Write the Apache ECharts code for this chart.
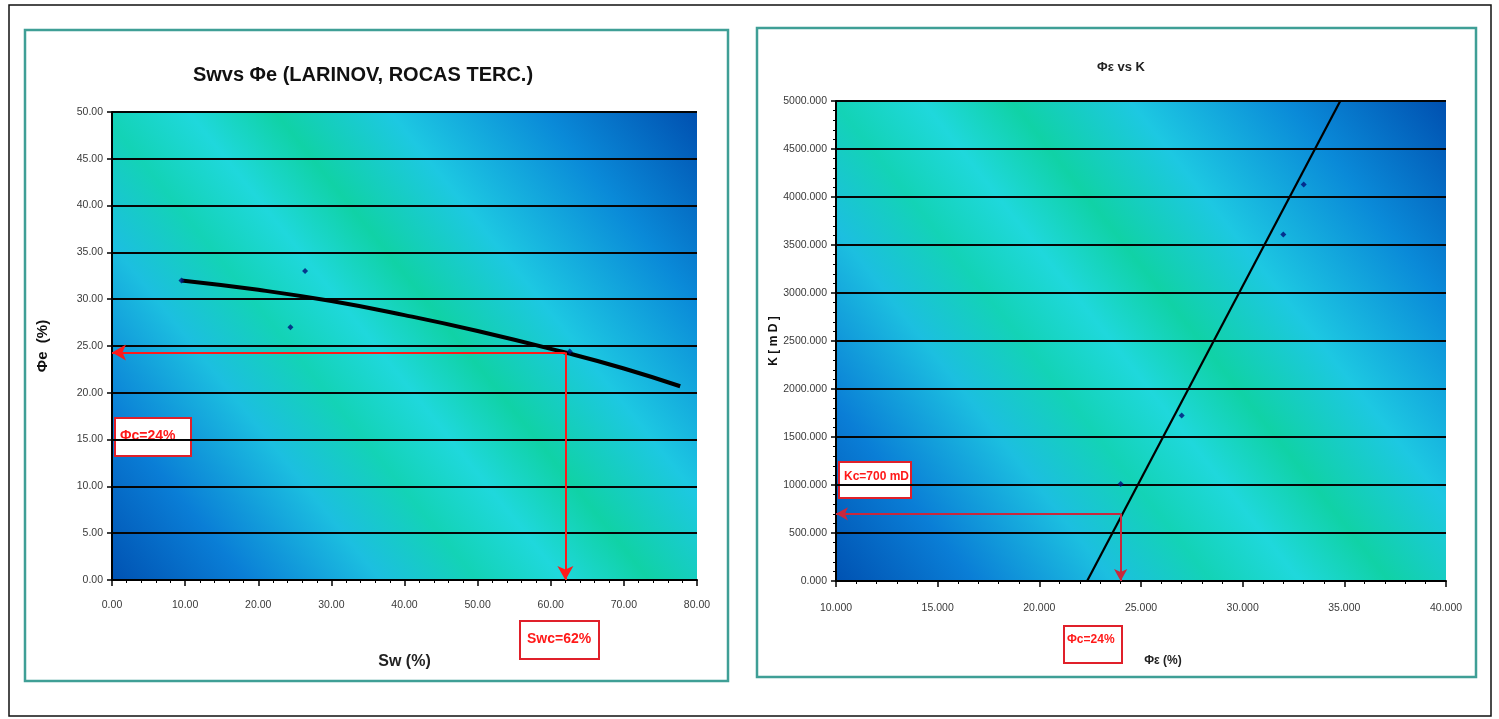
<!DOCTYPE html>
<html><head><meta charset="utf-8">
<script src="https://cdn.jsdelivr.net/npm/echarts@6/dist/echarts.min.js"></script>
<style>html,body{margin:0;padding:0;background:#fff}#c{width:1499px;height:719px}</style>
</head><body><div id="c"></div>
<script>
// ---- Left chart: Sw vs Φe ----
const swPoints = [[9.5, 32.0], [24.4, 27.0], [26.4, 33.0], [62.6, 24.4]];
const swTrend = [[9.5, 32.0], [20, 31.0], [30, 29.8], [40, 28.3], [50, 26.6], [62, 24.3], [70, 22.6], [77.7, 20.7]];
const swCut = { sw: 62, phi: 24.3 };
const leftXTicks = { min: 0, max: 80, interval: 10 };
const leftYTicks = { min: 0, max: 50, interval: 5 };

// ---- Right chart: Φe vs K ----
const kPoints = [[24.0, 1010], [27.0, 1725], [32.0, 3610], [33.0, 4130]];
const kTrend = [[22.35, 0], [34.8, 5000]];
const kCut = { phi: 24.0, k: 700 };
const rightXTicks = { min: 10, max: 40, interval: 5 };
const rightYTicks = { min: 0, max: 5000, interval: 500 };

const FONT = "'Liberation Sans Narrow','Liberation Sans',Arial,sans-serif";
const BOLD = "'Liberation Sans',Arial,sans-serif";

function bg() {
  return new echarts.graphic.LinearGradient(0, 1, 1, 0, [
    { offset: 0, color: '#0052b2' },
    { offset: 0.14, color: '#0a7ed6' },
    { offset: 0.28, color: '#1cbfe0' },
    { offset: 0.38, color: '#13d3b6' },
    { offset: 0.47, color: '#1fd8dc' },
    { offset: 0.56, color: '#10d2a6' },
    { offset: 0.68, color: '#1dc8e2' },
    { offset: 0.84, color: '#0a8ad8' },
    { offset: 1, color: '#0050b0' }
  ]);
}

const axisLabel = (dec) => ({
  color: '#3a3a3a', fontFamily: FONT, fontSize: 10.5,
  formatter: v => v.toFixed(dec)
});

const chart = echarts.init(document.getElementById('c'));
chart.setOption({
  animation: false,
  title: [
    { text: 'Swvs Φe (LARINOV, ROCAS TERC.)', left: 358, top: 60, textAlign: 'center',
      textStyle: { fontFamily: BOLD, fontWeight: 'bold', fontSize: 20, color: '#111' } },
    { text: 'Φε vs K', left: 1116, top: 56, textAlign: 'center',
      textStyle: { fontFamily: BOLD, fontWeight: 'bold', fontSize: 13, color: '#222' } }
  ],
  grid: [
    { left: 112, top: 112, width: 585, height: 468, show: true, backgroundColor: bg(), borderWidth: 0 },
    { left: 836, top: 101, width: 610, height: 480, show: true, backgroundColor: bg(), borderWidth: 0 }
  ],
  xAxis: [
    { gridIndex: 0, type: 'value', ...leftXTicks,
      axisLine: { show: true, lineStyle: { color: '#000', width: 2 } },
      axisTick: { show: true, length: 6, lineStyle: { color: '#000', width: 1.5 } },
      minorTick: { show: true, splitNumber: 5, length: 3, lineStyle: { color: '#000' } },
      splitLine: { show: false },
      axisLabel: { ...axisLabel(2), margin: 20 },
      name: 'Sw (%)', nameLocation: 'middle', nameGap: 74,
      nameTextStyle: { fontFamily: FONT, fontWeight: 'bold', fontSize: 16, color: '#222' } },
    { gridIndex: 1, type: 'value', ...rightXTicks,
      axisLine: { show: true, lineStyle: { color: '#000', width: 2 } },
      axisTick: { show: true, length: 6, lineStyle: { color: '#000', width: 1.5 } },
      minorTick: { show: true, splitNumber: 5, length: 3, lineStyle: { color: '#000' } },
      splitLine: { show: false },
      axisLabel: { ...axisLabel(3), margin: 22 },
      name: 'Φε (%)', nameLocation: 'middle', nameGap: 74,
      nameTextStyle: { fontFamily: FONT, fontWeight: 'bold', fontSize: 12, color: '#222', padding: [0, 0, 0, 44] } }
  ],
  yAxis: [
    { gridIndex: 0, type: 'value', ...leftYTicks,
      axisLine: { show: true, lineStyle: { color: '#000', width: 2 } },
      axisTick: { show: true, length: 5, lineStyle: { color: '#000', width: 1.5 } },
      splitLine: { show: true, lineStyle: { color: '#050505', width: 2 } },
      axisLabel: { ...axisLabel(2), margin: 9 },
      name: 'Φe  (%)', nameLocation: 'middle', nameGap: 62,
      nameTextStyle: { fontFamily: BOLD, fontWeight: 'bold', fontSize: 15, color: '#111' } },
    { gridIndex: 1, type: 'value', ...rightYTicks,
      axisLine: { show: true, lineStyle: { color: '#000', width: 2 } },
      axisTick: { show: true, length: 5, lineStyle: { color: '#000', width: 1.5 } },
      minorTick: { show: true, splitNumber: 5, length: 3, lineStyle: { color: '#000' } },
      splitLine: { show: true, lineStyle: { color: '#050505', width: 2 } },
      axisLabel: { ...axisLabel(3), margin: 9 },
      name: 'K [ m D ]', nameLocation: 'middle', nameGap: 46,
      nameTextStyle: { fontFamily: BOLD, fontWeight: 'bold', fontSize: 12, color: '#111' } }
  ],
  series: [
    { type: 'line', xAxisIndex: 0, yAxisIndex: 0, data: swTrend, smooth: true, showSymbol: false,
      lineStyle: { color: '#000', width: 4 }, z: 3,
      markLine: { silent: true, symbol: ['none', 'arrow'], symbolSize: [12, 14], animation: false,
        label: { show: false }, lineStyle: { color: '#ff1a1a', width: 2, type: 'solid' },
        data: [
          [{ coord: [swCut.sw, swCut.phi] }, { coord: [leftXTicks.min, swCut.phi] }],
          [{ coord: [swCut.sw, swCut.phi] }, { coord: [swCut.sw, leftYTicks.min] }]
        ] } },
    { type: 'scatter', xAxisIndex: 0, yAxisIndex: 0, data: swPoints, symbol: 'diamond', symbolSize: 6,
      itemStyle: { color: '#00107a' }, z: 4 },
    { type: 'line', xAxisIndex: 1, yAxisIndex: 1, data: kTrend, showSymbol: false,
      lineStyle: { color: '#000', width: 2.2 }, z: 3,
      markLine: { silent: true, symbol: ['none', 'arrow'], symbolSize: [10, 12], animation: false,
        label: { show: false }, lineStyle: { color: '#c8283c', width: 2, type: 'solid' },
        data: [
          [{ coord: [kCut.phi, kCut.k] }, { coord: [rightXTicks.min, kCut.k] }],
          [{ coord: [kCut.phi, kCut.k] }, { coord: [kCut.phi, rightYTicks.min] }]
        ] } },
    { type: 'scatter', xAxisIndex: 1, yAxisIndex: 1, data: kPoints, symbol: 'diamond', symbolSize: 6,
      itemStyle: { color: '#00107a' }, z: 4 }
  ],
  graphic: [
    { type: 'rect', shape: { x: 9, y: 5, width: 1482, height: 711 }, style: { fill: 'none', stroke: '#111', lineWidth: 1.5 }, z: -10 },
    { type: 'rect', shape: { x: 25, y: 30, width: 703, height: 651 }, style: { fill: 'none', stroke: '#3f9f96', lineWidth: 2.5 }, z: -9 },
    { type: 'rect', shape: { x: 757, y: 28, width: 719, height: 649 }, style: { fill: 'none', stroke: '#3f9f96', lineWidth: 2.5 }, z: -9 },
    // annotation boxes
    { type: 'group', left: 114, top: 417, children: [
      { type: 'rect', shape: { x: 0, y: 0, width: 76, height: 38 }, style: { fill: '#fff', stroke: '#e0202a', lineWidth: 2 } },
      { type: 'text', x: 5, y: 11, style: { text: 'Φc=24%', fill: '#ff1a1a', font: "bold 14px " + FONT } }
    ] },
    { type: 'group', left: 519, top: 620, children: [
      { type: 'rect', shape: { x: 0, y: 0, width: 79, height: 38 }, style: { fill: '#fff', stroke: '#e0202a', lineWidth: 2 } },
      { type: 'text', x: 7, y: 11, style: { text: 'Swc=62%', fill: '#ff1a1a', font: "bold 14px " + FONT } }
    ] },
    { type: 'group', left: 838, top: 461, children: [
      { type: 'rect', shape: { x: 0, y: 0, width: 72, height: 36 }, style: { fill: '#fff', stroke: '#e0202a', lineWidth: 2 } },
      { type: 'text', x: 5, y: 9, style: { text: 'Kc=700 mD', fill: '#ff1a1a', font: "bold 12px " + FONT } }
    ] },
    { type: 'group', left: 1063, top: 625, children: [
      { type: 'rect', shape: { x: 0, y: 0, width: 58, height: 37 }, style: { fill: '#fff', stroke: '#e0202a', lineWidth: 2 } },
      { type: 'text', x: 3, y: 8, style: { text: 'Φc=24%', fill: '#ff1a1a', font: "bold 12px " + FONT } }
    ] }
  ]
});
</script></body></html>
